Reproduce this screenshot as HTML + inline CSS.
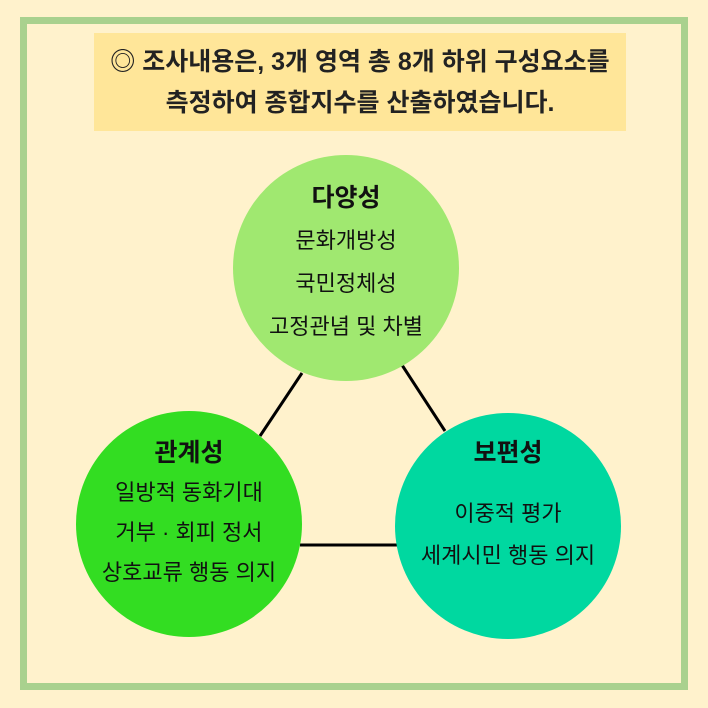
<!DOCTYPE html><html><head><meta charset="utf-8"><style>
body{margin:0;width:708px;height:708px;background:#fff2cc;position:relative;overflow:hidden;font-family:"Liberation Sans","Noto Sans CJK KR",sans-serif}
.frame{position:absolute;left:20px;top:17px;width:654px;height:659px;border:7px solid #a9d18e}
.box{position:absolute;left:94px;top:33px;width:532px;height:98px;background:#ffe699;text-align:center;font-weight:bold;font-size:25px;color:#222;line-height:41px;padding-top:9px;box-sizing:border-box;white-space:nowrap}
.c{position:absolute;width:226px;height:226px;border-radius:50%;text-align:center;color:#111;font-size:22px;white-space:nowrap}
.c b{display:block;font-size:25px}
</style></head><body>
<div class="frame"></div>
<div class="box">◎ 조사내용은, 3개 영역 총 8개 하위 구성요소를<br>측정하여 종합지수를 산출하였습니다.</div>
<svg width="708" height="708" style="position:absolute;left:0;top:0"><g stroke="#000" stroke-width="3"><line x1="302" y1="373" x2="260" y2="436"/><line x1="402" y1="365" x2="445" y2="431"/><line x1="300" y1="545" x2="397" y2="545"/></g></svg>
<div class="c" style="left:233px;top:155px;background:#a0e870"><b style="margin-top:28px;line-height:30px">다양성</b><div style="line-height:43px;margin-top:6px">문화개방성<br>국민정체성<br>고정관념 및 차별</div></div>
<div class="c" style="left:76px;top:411px;background:#33dd22"><b style="margin-top:27px;line-height:30px">관계성</b><div style="line-height:40px;margin-top:5px">일방적 동화기대<br>거부 · 회피 정서<br>상호교류 행동 의지</div></div>
<div class="c" style="left:395px;top:413px;background:#00d8a0"><b style="margin-top:25px;line-height:30px">보편성</b><div style="line-height:42px;margin-top:25px">이중적 평가<br>세계시민 행동 의지</div></div>
</body></html>
